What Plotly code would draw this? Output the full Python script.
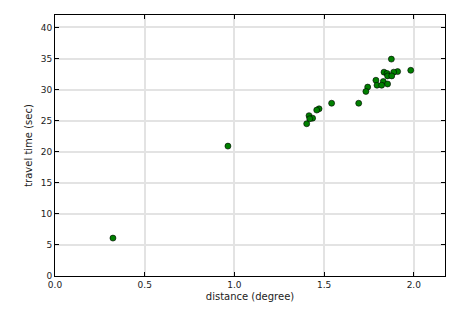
import plotly.graph_objects as go

distance = [0.323, 0.964, 1.875, 1.983, 1.910, 1.888, 1.834, 1.851, 1.854, 1.877,
            1.789, 1.830, 1.795, 1.821, 1.854, 1.743, 1.733, 1.693, 1.542, 1.472,
            1.459, 1.416, 1.436, 1.420, 1.403]
travel_time = [6.1, 20.9, 34.9, 33.1, 32.9, 32.8, 32.8, 32.6, 32.2, 32.2,
               31.5, 31.3, 30.7, 30.7, 30.9, 30.4, 29.7, 27.8, 27.8, 26.9,
               26.7, 25.8, 25.4, 25.3, 24.5]

fig = go.Figure(go.Scatter(
    x=distance, y=travel_time, mode="markers",
    marker=dict(size=6, color="#008000", line=dict(color="black", width=0.6)),
))

axis_common = dict(
    showline=True, linecolor="black", linewidth=1, mirror="ticks",
    ticks="inside", ticklen=4, tickcolor="black",
    showgrid=True, gridcolor="#e3e3e3", gridwidth=1.5, zeroline=False,
    tickfont=dict(family="DejaVu Sans", size=9, color="#222"),
)
fig.update_xaxes(range=[0, 2.174], dtick=0.5, tickformat=".1f",
                 title=dict(text="distance (degree)", font=dict(family="DejaVu Sans", size=10, color="#222"), standoff=4),
                 **axis_common)
fig.update_yaxes(range=[0, 42], dtick=5,
                 title=dict(text="travel time (sec)", font=dict(family="DejaVu Sans", size=10, color="#222"), standoff=6),
                 **axis_common)
fig.update_layout(
    width=465, height=315, margin=dict(l=55, r=20, t=15, b=39),
    plot_bgcolor="white", paper_bgcolor="white", showlegend=False,
)
fig.write_html("out.html")
